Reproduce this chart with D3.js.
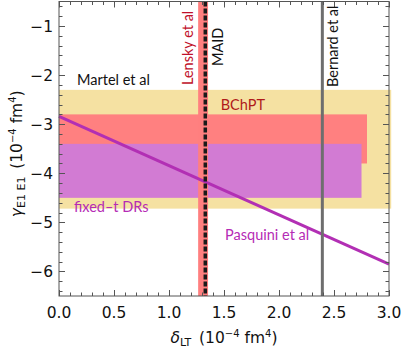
<!DOCTYPE html>
<html><head><meta charset="utf-8">
<script src="https://cdn.jsdelivr.net/npm/d3@7"></script>
<style>html,body{margin:0;padding:0;background:#fff;}svg{display:block;}</style>
</head><body>
<svg id="chart" width="403" height="352"></svg>
<script>
// ---- data ----
const xTicks = [0, 0.5, 1, 1.5, 2, 2.5, 3];
const xTickLabels = ["0.0", "0.5", "1.0", "1.5", "2.0", "2.5", "3.0"];
const yTicks = [-6, -5, -4, -3, -2, -1];
const yTickLabels = ["\u22126", "\u22125", "\u22124", "\u22123", "\u22122", "\u22121"];
const bandNames = ["Martel et al", "BChPT", "fixed\u2013t DRs"];
const bandXEnd = [3.02, 2.8, 2.75];
const bandTop = [-2.3, -2.8, -3.4];
const bandBottom = [-4.72, -3.8, -4.5];
const pasquiniX = [0, 3];
const pasquiniY = [-2.84, -5.85];
const lenskyRange = [1.265, 1.355];
const maidX = 1.33;
const bernardX = 2.394;

// ---- layout ----
const svg = d3.select("#chart");
const L = 59, R = 389, T = 1.5, B = 296;
const x = d3.scaleLinear().domain([0, 3]).range([L, R]);
const y = d3.scaleLinear().domain([-6.5, -0.5]).range([B, T]);

const bandFill = ["#f5e1a2", "#ff8080", "#d27bd3"];
const g = svg.append("g");

// bands
bandNames.forEach((n, i) => {
  g.append("rect")
    .attr("x", x(0)).attr("y", y(bandTop[i]))
    .attr("width", x(bandXEnd[i]) - x(0))
    .attr("height", y(bandBottom[i]) - y(bandTop[i]))
    .attr("fill", bandFill[i]);
});

// Lensky band
g.append("rect")
  .attr("x", x(lenskyRange[0])).attr("y", y(-0.5))
  .attr("width", x(lenskyRange[1]) - x(lenskyRange[0]))
  .attr("height", y(-6.5) - y(-0.5))
  .attr("fill", "#ff7f7f");

// Pasquini line
const line = d3.line().x((d, i) => x(pasquiniX[i])).y(d => y(d));
g.append("path").datum(pasquiniY)
  .attr("d", line).attr("fill", "none")
  .attr("stroke", "#b22fb4").attr("stroke-width", 3);

// MAID dashed
g.append("line")
  .attr("x1", x(maidX)).attr("x2", x(maidX))
  .attr("y1", y(-0.5)).attr("y2", y(-6.5))
  .attr("stroke", "#1a1a1a").attr("stroke-width", 3.5)
  .attr("stroke-dasharray", "5,2");

// Bernard line
g.append("line")
  .attr("x1", x(bernardX)).attr("x2", x(bernardX))
  .attr("y1", y(-0.5)).attr("y2", y(-6.5))
  .attr("stroke", "#6e6e6e").attr("stroke-width", 3);

// frame
svg.append("rect").attr("x", L).attr("y", T).attr("width", R - L).attr("height", B - T)
  .attr("fill", "none").attr("stroke", "#555").attr("stroke-width", 1);

// ticks
const tickColor = "#555";
const xMinor = d3.range(0, 3.0001, 0.1);
const yMinor = d3.range(-6.4, -0.5, 0.2);
const tg = svg.append("g").attr("stroke", tickColor).attr("stroke-width", 1);
xMinor.forEach(v => {
  const major = Math.abs(v * 2 - Math.round(v * 2)) < 1e-6;
  const len = major ? 6 : 3.5;
  const px = Math.round(x(v)) + 0.5;
  tg.append("line").attr("x1", px).attr("x2", px).attr("y1", B).attr("y2", B - len);
  tg.append("line").attr("x1", px).attr("x2", px).attr("y1", T).attr("y2", T + len);
});
yMinor.forEach(v => {
  const major = Math.abs(v - Math.round(v)) < 1e-6;
  const len = major ? 6 : 3.5;
  const py = Math.round(y(v)) + 0.5;
  tg.append("line").attr("x1", L).attr("x2", L + len).attr("y1", py).attr("y2", py);
  tg.append("line").attr("x1", R).attr("x2", R - len).attr("y1", py).attr("y2", py);
});

// tick labels
const tickFont = "'DejaVu Sans', sans-serif";
xTicks.forEach((v, i) => {
  svg.append("text").attr("x", x(v)).attr("y", 318)
    .attr("text-anchor", "middle").attr("font-family", tickFont).attr("font-size", 15.5)
    .attr("fill", "#111").text(xTickLabels[i]);
});
yTicks.forEach((v, i) => {
  svg.append("text").attr("x", 53).attr("y", y(v) + 5.5)
    .attr("text-anchor", "end").attr("font-family", tickFont).attr("font-size", 15.5)
    .attr("fill", "#111").text(yTickLabels[i]);
});

// annotation labels
const labFont = "Lato, sans-serif";
function label(txt, px, py, color, rot) {
  const t = svg.append("text").attr("font-family", labFont).attr("font-size", 14.5)
    .attr("fill", color).text(txt);
  if (rot) t.attr("transform", `translate(${px},${py}) rotate(-90)`);
  else t.attr("x", px).attr("y", py);
  return t;
}
label(bandNames[0], x(0.164), y(-2.21), "#111");
label(bandNames[1], x(1.47), y(-2.72), "#b01a1a");
label(bandNames[2], x(0.136), y(-4.78), "#b52bb5");
label("Pasquini et al", x(1.51), y(-5.36), "#b52bb5");
label("Lensky et al", 193, 85, "#c0102a", true);
label("MAID", 223, 66, "#111", true);
label("Bernard et al", 338, 87, "#111", true);

// axis titles
const xt = svg.append("text").attr("x", (L + R) / 2).attr("y", 343)
  .attr("text-anchor", "middle").attr("font-family", tickFont).attr("font-size", 15.5).attr("fill", "#111");
xt.append("tspan").attr("font-style", "italic").text("\u03b4");
xt.append("tspan").attr("font-size", 11).attr("dy", 3).text("LT");
xt.append("tspan").attr("dy", -3).text("\u2002(10");
xt.append("tspan").attr("font-size", 10).attr("dy", -6).text("\u22124");
xt.append("tspan").attr("dy", 6).text(" fm");
xt.append("tspan").attr("font-size", 10).attr("dy", -6).text("4");
xt.append("tspan").attr("dy", 6).text(")");

const yt = svg.append("text").attr("transform", `translate(22,${(T + B) / 2 + 5}) rotate(-90)`)
  .attr("text-anchor", "middle").attr("font-family", tickFont).attr("font-size", 15.5).attr("fill", "#111");
yt.append("tspan").attr("font-style", "italic").text("\u03b3");
yt.append("tspan").attr("font-size", 11).attr("dy", 3).text("E1 E1");
yt.append("tspan").attr("dy", -3).text("\u2002(10");
yt.append("tspan").attr("font-size", 10).attr("dy", -6).text("\u22124");
yt.append("tspan").attr("dy", 6).text(" fm");
yt.append("tspan").attr("font-size", 10).attr("dy", -6).text("4");
yt.append("tspan").attr("dy", 6).text(")");
</script>
</body></html>
